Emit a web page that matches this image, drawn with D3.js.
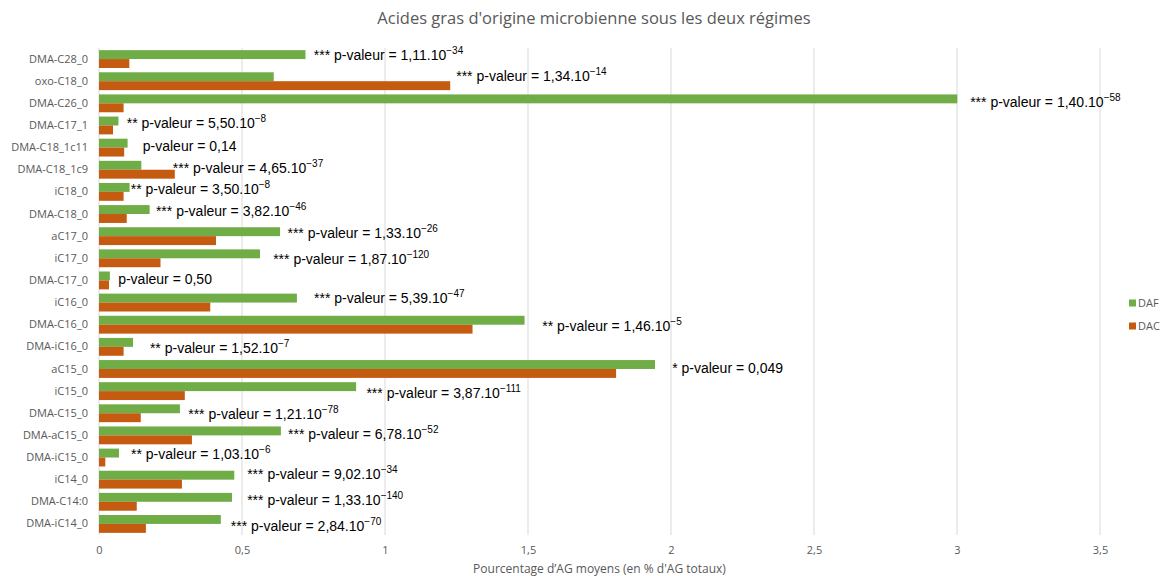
<!DOCTYPE html>
<html>
<head>
<meta charset="utf-8">
<script src="https://cdn.jsdelivr.net/npm/d3@7"></script>
<style>
  html, body { margin: 0; padding: 0; background: #fff; }
  svg { display: block; }
</style>
</head>
<body>
<svg id="chart" width="1161" height="576"></svg>
<script>
// ---- Data ----
const categories = ["DMA-C28_0","oxo-C18_0","DMA-C26_0","DMA-C17_1","DMA-C18_1c11","DMA-C18_1c9","iC18_0","DMA-C18_0","aC17_0","iC17_0","DMA-C17_0","iC16_0","DMA-C16_0","DMA-iC16_0","aC15_0","iC15_0","DMA-C15_0","DMA-aC15_0","DMA-iC15_0","iC14_0","DMA-C14:0","DMA-iC14_0"];
const seriesNames = ["DAF", "DAC"];
const dafValues = [0.722,0.611,3.001,0.068,0.100,0.148,0.107,0.177,0.633,0.563,0.038,0.692,1.488,0.119,1.944,0.899,0.283,0.636,0.070,0.473,0.465,0.426];
const dacValues = [0.106,1.228,0.086,0.049,0.088,0.265,0.086,0.097,0.409,0.215,0.035,0.389,1.306,0.086,1.808,0.300,0.146,0.325,0.022,0.290,0.132,0.164];
const stars = ["***","***","***","**","","***","**","***","***","***","","***","**","**","*","***","***","***","**","***","***","***"];
const pMantissa = ["1,11","1,34","1,40","5,50","0,14","4,65","3,50","3,82","1,33","1,87","0,50","5,39","1,46","1,52","0,049","3,87","1,21","6,78","1,03","9,02","1,33","2,84"];
const pExponent = ["−34","−14","−58","−8",null,"−37","−8","−46","−26","−120",null,"−47","−5","−7",null,"−111","−78","−52","−6","−34","−140","−70"];
const xTicks = [0,0.5,1,1.5,2,2.5,3,3.5];
// label anchor (in data units) where each p-value annotation starts
const labelAnchor = [0.751,1.249,3.046,0.097,0.153,0.258,0.111,0.199,0.659,0.609,0.067,0.752,1.550,0.178,2.004,0.935,0.312,0.661,0.112,0.518,0.518,0.461];
const labelShift = [-4,-5,-1,-2,-2,-2,-3,-3,-3,1,-1,-4,1,1,-1,2,1,-1,-3,-6,-2,2];

// ---- Layout ----
const svg = d3.select("#chart");
const margin = {left: 99, right: 61, top: 48, bottom: 41};
const W = 1161, H = 576;
const colors = {DAF: "#70AD47", DAC: "#C55A11"};

const x = d3.scaleLinear().domain([0, 3.5]).range([margin.left, W - margin.right]);
const y = d3.scaleBand().domain(categories).range([margin.top, H - margin.bottom]).paddingInner(0).paddingOuter(0);
const ySub = d3.scaleBand().domain(seriesNames).range([0, y.bandwidth()]).paddingInner(0).paddingOuter(0.24);

// title
svg.append("text")
  .attr("x", 594).attr("y", 24)
  .attr("text-anchor", "middle")
  .attr("font-family", "Open Sans, sans-serif")
  .attr("font-size", 16.5)
  .attr("fill", "#595959")
  .text("Acides gras d'origine microbienne sous les deux régimes");

// gridlines
svg.append("g").selectAll("line").data(xTicks).join("line")
  .attr("x1", d => x(d)).attr("x2", d => x(d))
  .attr("y1", margin.top).attr("y2", H - margin.bottom)
  .attr("stroke", "#d9d9d9").attr("stroke-width", 1);

// x axis labels
const xAxis = d3.axisBottom(x).tickValues(xTicks).tickSize(0).tickPadding(11)
  .tickFormat(d => String(d).replace(".", ","));
const gx = svg.append("g").attr("transform", `translate(0,${H - margin.bottom})`).call(xAxis);
gx.select(".domain").remove();
gx.selectAll("text").attr("font-family", "Open Sans, sans-serif").attr("font-size", 11).attr("fill", "#595959");

// y axis labels
const yAxis = d3.axisLeft(y).tickSize(0).tickPadding(11);
const gy = svg.append("g").attr("transform", `translate(${margin.left},0)`).call(yAxis);
gy.select(".domain").remove();
gy.selectAll("text").attr("font-family", "Open Sans, sans-serif").attr("font-size", 11).attr("fill", "#595959");

// bars
const rows = categories.map((c, i) => ({cat: c, DAF: dafValues[i], DAC: dacValues[i]}));
const gBars = svg.append("g");
rows.forEach(r => {
  seriesNames.forEach(s => {
    gBars.append("rect")
      .attr("x", x(0))
      .attr("y", y(r.cat) + ySub(s))
      .attr("width", x(r[s]) - x(0))
      .attr("height", ySub.bandwidth())
      .attr("fill", colors[s]);
  });
});

// annotations
const gAnn = svg.append("g")
  .attr("font-family", "Liberation Sans, Arial, sans-serif")
  .attr("fill", "#000");
categories.forEach((c, i) => {
  const t = gAnn.append("text")
    .attr("x", x(labelAnchor[i]))
    .attr("y", y(c) + y.bandwidth() / 2 + labelShift[i])
    .attr("dy", "0.35em")
    .attr("font-size", 14);
  const prefix = (stars[i] ? stars[i] + " " : "") + "p-valeur = " + pMantissa[i] + (pExponent[i] ? ".10" : "");
  t.append("tspan").text(prefix);
  if (pExponent[i]) {
    t.append("tspan").attr("font-size", 10).attr("dy", -6).text(pExponent[i]);
  }
});

// axis title
svg.append("text")
  .attr("x", (x(0) + x(3.5)) / 2).attr("y", 573)
  .attr("text-anchor", "middle")
  .attr("font-family", "Open Sans, sans-serif")
  .attr("font-size", 12)
  .attr("fill", "#595959")
  .text("Pourcentage d’AG moyens (en % d'AG totaux)");

// legend
const leg = svg.append("g");
seriesNames.forEach((s, i) => {
  const ly = 303 + i * 23;
  leg.append("rect").attr("x", 1129).attr("y", ly - 3.5).attr("width", 7).attr("height", 7).attr("fill", colors[s]);
  leg.append("text").attr("x", 1138).attr("y", ly).attr("dy", "0.35em")
    .attr("font-family", "Open Sans, sans-serif").attr("font-size", 11).attr("fill", "#595959").text(s);
});
</script>
</body>
</html>
